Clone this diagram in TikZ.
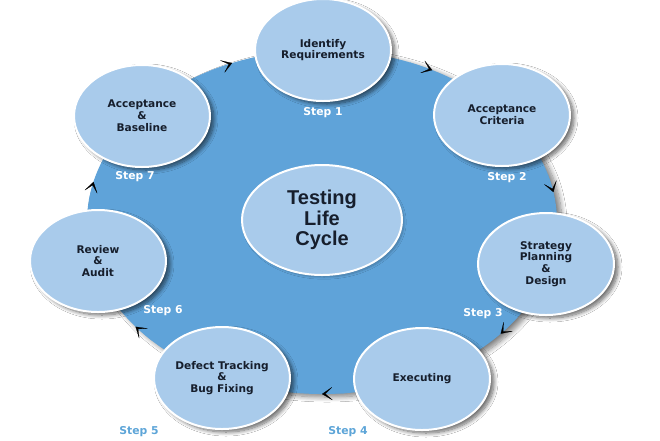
\documentclass[tikz,border=0pt]{standalone}
\usepackage{fontspec}
\setmainfont{DejaVu Sans}
\newfontfamily\titlefont{Liberation Sans}
\usetikzlibrary{shapes.geometric,arrows.meta,shadows.blur}
\definecolor{bigblue}{HTML}{5FA3D9}
\definecolor{smallblue}{HTML}{A9CBEB}
\definecolor{txt}{HTML}{161E2C}
\definecolor{steplight}{HTML}{5DA5D8}
\begin{document}
\begin{tikzpicture}[x=1pt,y=-1pt,
  stage/.style={ellipse, draw=white, line width=2pt, fill=smallblue, inner sep=0pt,
    minimum width=136pt, minimum height=102pt, align=center, text=txt,
    font=\bfseries\fontsize{10.6}{11.8}\selectfont,
    blur shadow={shadow xshift=4pt, shadow yshift=-3pt, shadow blur steps=10, shadow blur radius=4pt, shadow opacity=60}},
  steplabel/.style={text=white, font=\bfseries\fontsize{10.8}{12}\selectfont},
  cyc/.style={bigblue, line width=0.2pt, -{Stealth[color=black, length=11pt, width=14pt, inset=7.5pt]}}
]
\useasboundingbox (0,0) rectangle (660,440);
\clip (0,0) rectangle (660,440);
\fill[white] (0,0) rectangle (660,440);
% big cycle
\node[ellipse, fill=bigblue, inner sep=0pt, minimum width=470pt, minimum height=344pt,
  blur shadow={shadow xshift=5pt, shadow yshift=-3pt, shadow blur steps=10, shadow blur radius=5pt, shadow opacity=50}] (cycle) at (322,222) {};
% arrow heads on the rim
\foreach \n/\t in {1/-62, 2/-10, 3/40.5, 4/90, 5/142.5, 6/193.5, 7/-112.5} {
  \coordinate (a\n) at ({322+235*cos(\t)},{222+172*sin(\t)});
  \coordinate (b\n) at ({322+235*cos(\t-6)},{222+172*sin(\t-6)});
  \draw[cyc] (b\n) -- (a\n);
}
% hub
\node[ellipse, draw=white, line width=2pt, fill=smallblue, inner sep=0pt,
  minimum width=160pt, minimum height=110pt, align=center, text=txt,
  font=\titlefont\bfseries\fontsize{20}{20.5}\selectfont,
  blur shadow={shadow xshift=2pt, shadow yshift=-2pt, shadow blur steps=8, shadow opacity=25}] (hub) at (322,220) {Testing\\Life\\Cycle};
% stages
\node[stage] (s1) at (323,50) {Identify\\Requirements};
\node[stage] (s2) at (502,115) {Acceptance\\Criteria};
\node[stage] (s3) at (546,264) {Strategy\\Planning\\\&\\Design};
\node[stage] (s4) at (422,379) {Executing};
\node[stage] (s5) at (222,378) {Defect Tracking\\\&\\Bug Fixing};
\node[stage] (s6) at (98,261) {Review\\\&\\Audit};
\node[stage] (s7) at (142,116) {Acceptance\\\&\\Baseline};
% step labels
\node[steplabel] (l1) at (323,113) {Step 1};
\node[steplabel] (l2) at (507,178) {Step 2};
\node[steplabel] (l3) at (483,314) {Step 3};
\node[steplabel, text=steplight] (l4) at (348,432) {Step 4};
\node[steplabel, text=steplight] (l5) at (139,432) {Step 5};
\node[steplabel] (l6) at (163,311) {Step 6};
\node[steplabel] (l7) at (135,177) {Step 7};
\end{tikzpicture}
\end{document}
